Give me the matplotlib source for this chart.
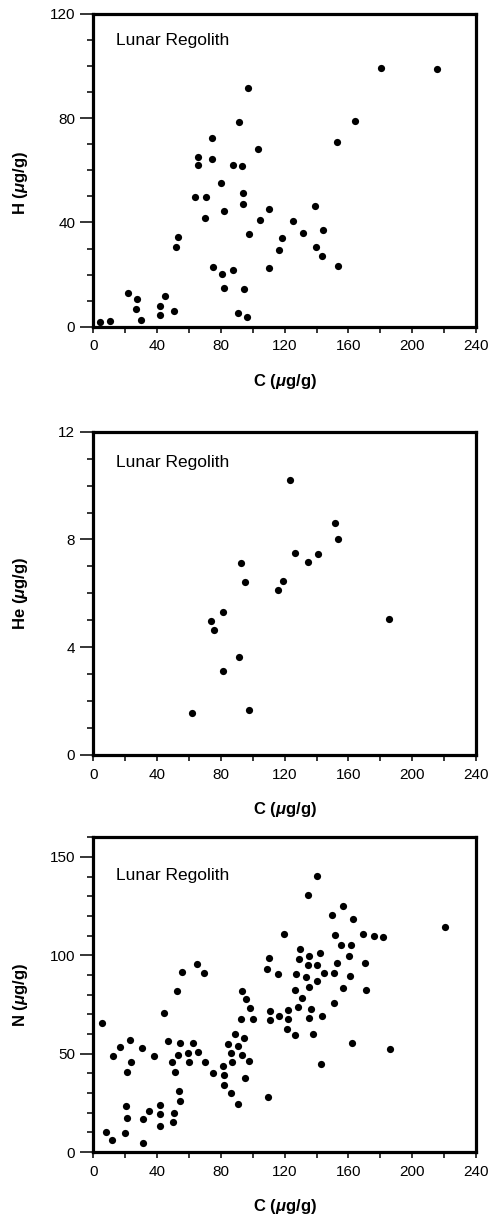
import matplotlib
matplotlib.use('Agg')
import matplotlib.pyplot as plt
from matplotlib.ticker import MultipleLocator

# H vs C
h_c = [4.2, 10.7, 22.0, 27.4, 26.8, 29.9, 41.8, 41.8, 45.2, 50.6, 51.9, 53.3,
       63.8, 70.5, 65.7, 65.9, 69.9, 74.7, 74.7, 75.3, 79.9, 80.5, 82.0, 82.0,
       87.8, 87.8, 90.6, 91.6, 93.3, 93.9, 93.9, 94.5, 96.2, 97.3, 97.9, 103.1,
       104.4, 110.0, 110.0, 116.5, 118.4, 125.1, 131.7, 139.3, 139.7, 143.7,
       144.3, 152.9, 153.5, 164.4, 180.3, 215.4]
h_val = [1.8, 2.3, 12.8, 10.8, 6.8, 2.7, 7.9, 4.4, 11.7, 5.9, 30.7, 34.3,
         49.6, 49.6, 65.2, 61.9, 41.6, 72.3, 64.4, 22.9, 55.0, 20.1, 44.5, 14.9,
         61.9, 21.8, 5.1, 78.7, 61.7, 51.4, 47.0, 14.5, 3.8, 91.7, 35.6, 68.1,
         40.9, 45.3, 22.7, 29.4, 33.9, 40.4, 36.0, 46.2, 30.7, 27.0,
         37.2, 70.9, 23.4, 79.0, 99.4, 99.0]

# He vs C
he_c = [62.1, 73.8, 75.9, 81.4, 81.4, 91.2, 92.5, 95.2, 97.9, 115.7, 119.0,
        123.4, 126.5, 134.5, 141.0, 151.8, 153.7, 185.7]
he_val = [1.55, 4.97, 4.65, 5.32, 3.12, 3.63, 7.13, 6.42, 1.67, 6.11, 6.46,
          10.21, 7.49, 7.16, 7.45, 8.62, 8.0, 5.05]

# N vs C
n_c = [140.3, 134.5, 156.8, 149.7, 162.9, 220.8, 119.8, 151.8, 169.0, 176.1,
       181.6, 155.2, 161.7, 129.5, 142.2, 110.4, 129.0, 135.5, 160.2, 65.1,
       55.5, 69.3, 134.5, 140.3, 152.9, 170.3, 109.0, 115.7, 127.0, 133.2,
       144.9, 151.0, 161.0, 140.3, 135.1, 52.5, 93.3, 126.5, 156.8, 170.9,
       95.8, 131.1, 98.5, 128.4, 136.4, 151.0, 44.5, 110.7, 122.0, 92.5,
       100.4, 110.7, 116.5, 122.0, 135.5, 143.3, 5.5, 121.7, 126.5, 137.8,
       89.1, 162.3, 186.3, 22.8, 16.8, 46.7, 54.6, 62.5, 30.6, 84.7,
       90.8, 94.5, 12.5, 38.1, 53.1, 59.2, 65.9, 86.4, 93.3, 23.5,
       49.4, 60.0, 70.1, 87.2, 97.9, 81.2, 21.3, 51.4, 75.3, 82.0,
       95.0, 143.0, 82.0, 54.0, 86.4, 54.6, 109.8, 90.8, 20.3, 42.0,
       35.1, 50.8, 21.3, 31.4, 42.0, 50.0, 41.8, 8.2, 20.1, 11.5, 31.4]
n_val = [140.3, 130.7, 125.2, 120.3, 118.3, 114.4, 110.7, 110.2, 110.7, 109.7,
         109.2, 105.2, 105.2, 103.2, 101.0, 98.8, 98.3, 99.5, 99.5, 95.7,
         91.7, 90.8, 95.1, 95.1, 96.1, 96.1, 93.0, 90.3, 90.6, 88.8,
         91.2, 91.2, 89.6, 86.9, 84.0, 82.0, 81.7, 82.5, 83.2, 82.5,
         77.9, 78.4, 73.1, 73.6, 72.5, 75.8, 70.8, 71.8, 72.3, 67.6,
         67.6, 67.0, 69.1, 67.6, 68.1, 69.1, 65.4, 62.4, 59.5, 60.0,
         60.0, 55.3, 52.4, 56.8, 53.5, 56.3, 55.3, 55.3, 53.0, 54.8,
         54.0, 57.8, 48.8, 48.8, 49.3, 50.3, 50.8, 50.3, 49.3, 45.6,
         45.6, 45.6, 45.6, 45.9, 46.1, 43.9, 40.7, 40.7, 40.2, 39.0,
         37.5, 44.6, 34.1, 31.0, 29.8, 26.1, 27.8, 24.4, 23.4, 23.9,
         20.8, 19.7, 17.4, 16.9, 19.2, 15.3, 13.2, 10.0, 9.5, 6.1, 4.6]

plt.rcParams['font.family'] = ['Liberation Sans', 'DejaVu Sans']
plt.rcParams['mathtext.fontset'] = 'custom'
plt.rcParams['mathtext.rm'] = 'Liberation Sans:bold'
plt.rcParams['mathtext.it'] = 'Liberation Sans:bold:italic'
plt.rcParams['mathtext.bf'] = 'Liberation Sans:bold'

W, H = 491, 1216
fig = plt.figure(figsize=(W / 100, H / 100), dpi=100)

left, right = 93.3, 476.0
panels = [
    # top px, bottom px, x, y, name, ymax, major, minor, text top px, ylabel y
    (14.0, 326.7, h_c, h_val, 'H', 120, 40, 10, 33, 0.46),
    (431.7, 755.0, he_c, he_val, 'He', 12, 4, 1, 455, 0.5),
    (837.3, 1152.0, n_c, n_val, 'N', 160, 50, 10, 868, 0.5),
]

for top, bot, xs, ys, name, ymax, major, minor, txt_top, ylab_y in panels:
    ax = fig.add_axes([left / W, 1 - bot / H, (right - left) / W, (bot - top) / H])
    ax.plot(xs, ys, 'o', color='black', ms=5.2, mew=0, clip_on=False)
    ax.set_xlim(0, 240)
    ax.set_ylim(0, ymax)
    ax.xaxis.set_major_locator(MultipleLocator(40))
    ax.xaxis.set_minor_locator(MultipleLocator(20))
    ax.yaxis.set_major_locator(MultipleLocator(major))
    ax.yaxis.set_minor_locator(MultipleLocator(minor))
    for s in ax.spines.values():
        s.set_linewidth(2.3)
    ax.tick_params(which='both', direction='out', width=1.1,
                   top=False, right=False)
    ax.tick_params(axis='x', which='both', length=4.6)
    ax.tick_params(axis='x', which='major', labelsize=11, pad=4.5)
    ax.tick_params(axis='y', which='minor', length=4.6)
    ax.tick_params(axis='y', which='major', length=9.5, labelsize=11, pad=3.5)

    ax.text((116 - left) / (right - left), 1 - (txt_top - top) / (bot - top),
            'Lunar Regolith', transform=ax.transAxes, fontsize=12.5,
            ha='left', va='top')

    ax.set_xlabel(r'$\mathrm{C\ (}\mu\mathrm{g/g)}$', fontsize=12, va='top')
    ax.xaxis.set_label_coords(0.5, -45.0 / (bot - top))
    ax.set_ylabel(r'$\mathrm{%s\ (}\mu\mathrm{g/g)}$' % name, fontsize=12)
    ax.yaxis.set_label_coords((30 - left) / (right - left), ylab_y)

fig.savefig('out.png', dpi=100)
